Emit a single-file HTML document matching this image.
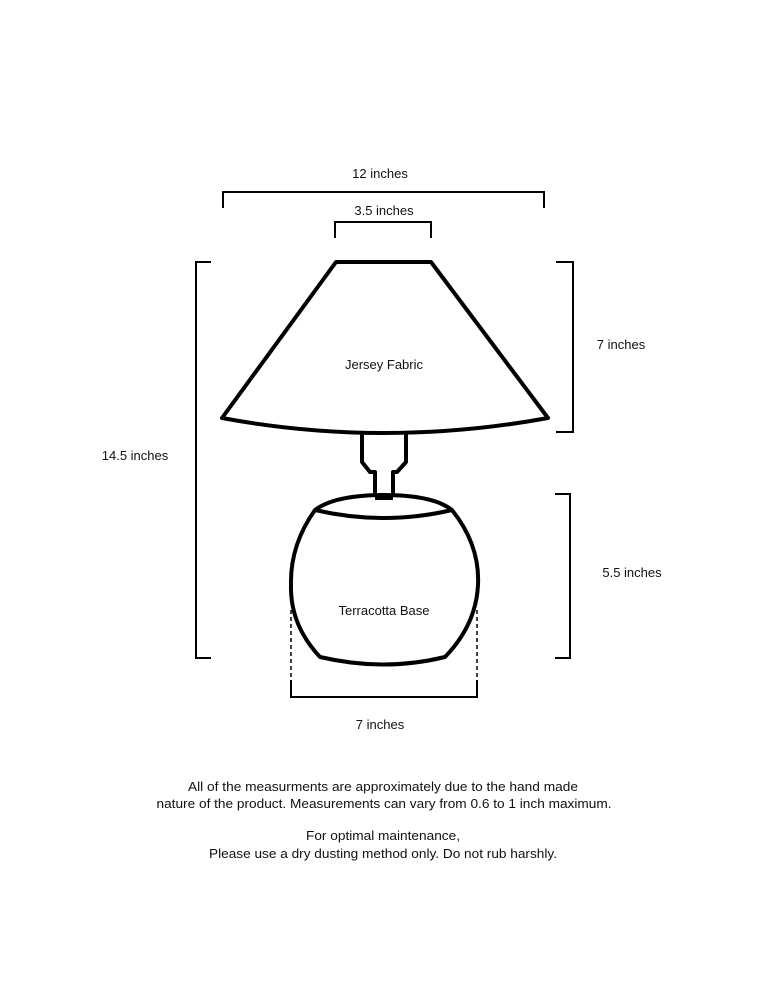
<!DOCTYPE html>
<html><head><style>
html,body{margin:0;padding:0;background:#fff;}
svg{display:block;}
text{font-family:"Liberation Sans",sans-serif;font-size:13px;fill:#111;}
</style></head><body>
<svg width="768" height="994" viewBox="0 0 768 994" xmlns="http://www.w3.org/2000/svg">
<rect width="768" height="994" fill="#fff"/>
<g fill="none" stroke="#000" stroke-width="2">
<polyline points="223,208 223,192 544,192 544,208"/>
<polyline points="335,238 335,222 431,222 431,238"/>
<polyline points="211,262 196,262 196,658 211,658"/>
<polyline points="556,262 573,262 573,432 556,432"/>
<polyline points="555,494 570,494 570,658 555,658"/>
<polyline points="291,680 291,697 477,697 477,680"/>
</g>
<g stroke="#000" stroke-width="1.5" stroke-dasharray="4,3">
<line x1="291" y1="610" x2="291" y2="680"/>
<line x1="477" y1="610" x2="477" y2="680"/>
</g>
<g fill="#fff" stroke="#000" stroke-width="4" stroke-linejoin="round">
<path d="M362,428 L362,462 L370,472 L375,472 L375,500 L393,500 L393,472 L397,472 L406,462 L406,428"/>
<path d="M336,262 L431,262 L548,418 Q384,448 222,418 Z"/>
<path d="M315,510 Q335,495 384,495 Q433,495 452,510 Q480,545 478,585 Q476,625 445,657 Q384,672 320,657 Q290,625 291,585 Q290,545 315,510 Z"/>
<path d="M315,510 Q384,526 452,510" />
<path d="M375,498 L393,498" />
</g>
<g text-anchor="middle">
<text x="380" y="178">12 inches</text>
<text x="384" y="215">3.5 inches</text>
<text x="621" y="349">7 inches</text>
<text x="135" y="460">14.5 inches</text>
<text x="384" y="369">Jersey Fabric</text>
<text x="384" y="615">Terracotta Base</text>
<text x="632" y="577">5.5 inches</text>
<text x="380" y="729">7 inches</text>
<text x="383" y="791" textLength="390" lengthAdjust="spacingAndGlyphs">All of the measurments are approximately due to the hand made</text>
<text x="384" y="808" textLength="455" lengthAdjust="spacingAndGlyphs">nature of the product. Measurements can vary from 0.6 to 1 inch maximum.</text>
<text x="383" y="840" textLength="154" lengthAdjust="spacingAndGlyphs">For optimal maintenance,</text>
<text x="383" y="858" textLength="348" lengthAdjust="spacingAndGlyphs">Please use a dry dusting method only. Do not rub harshly.</text>
</g>
</svg>
</body></html>
